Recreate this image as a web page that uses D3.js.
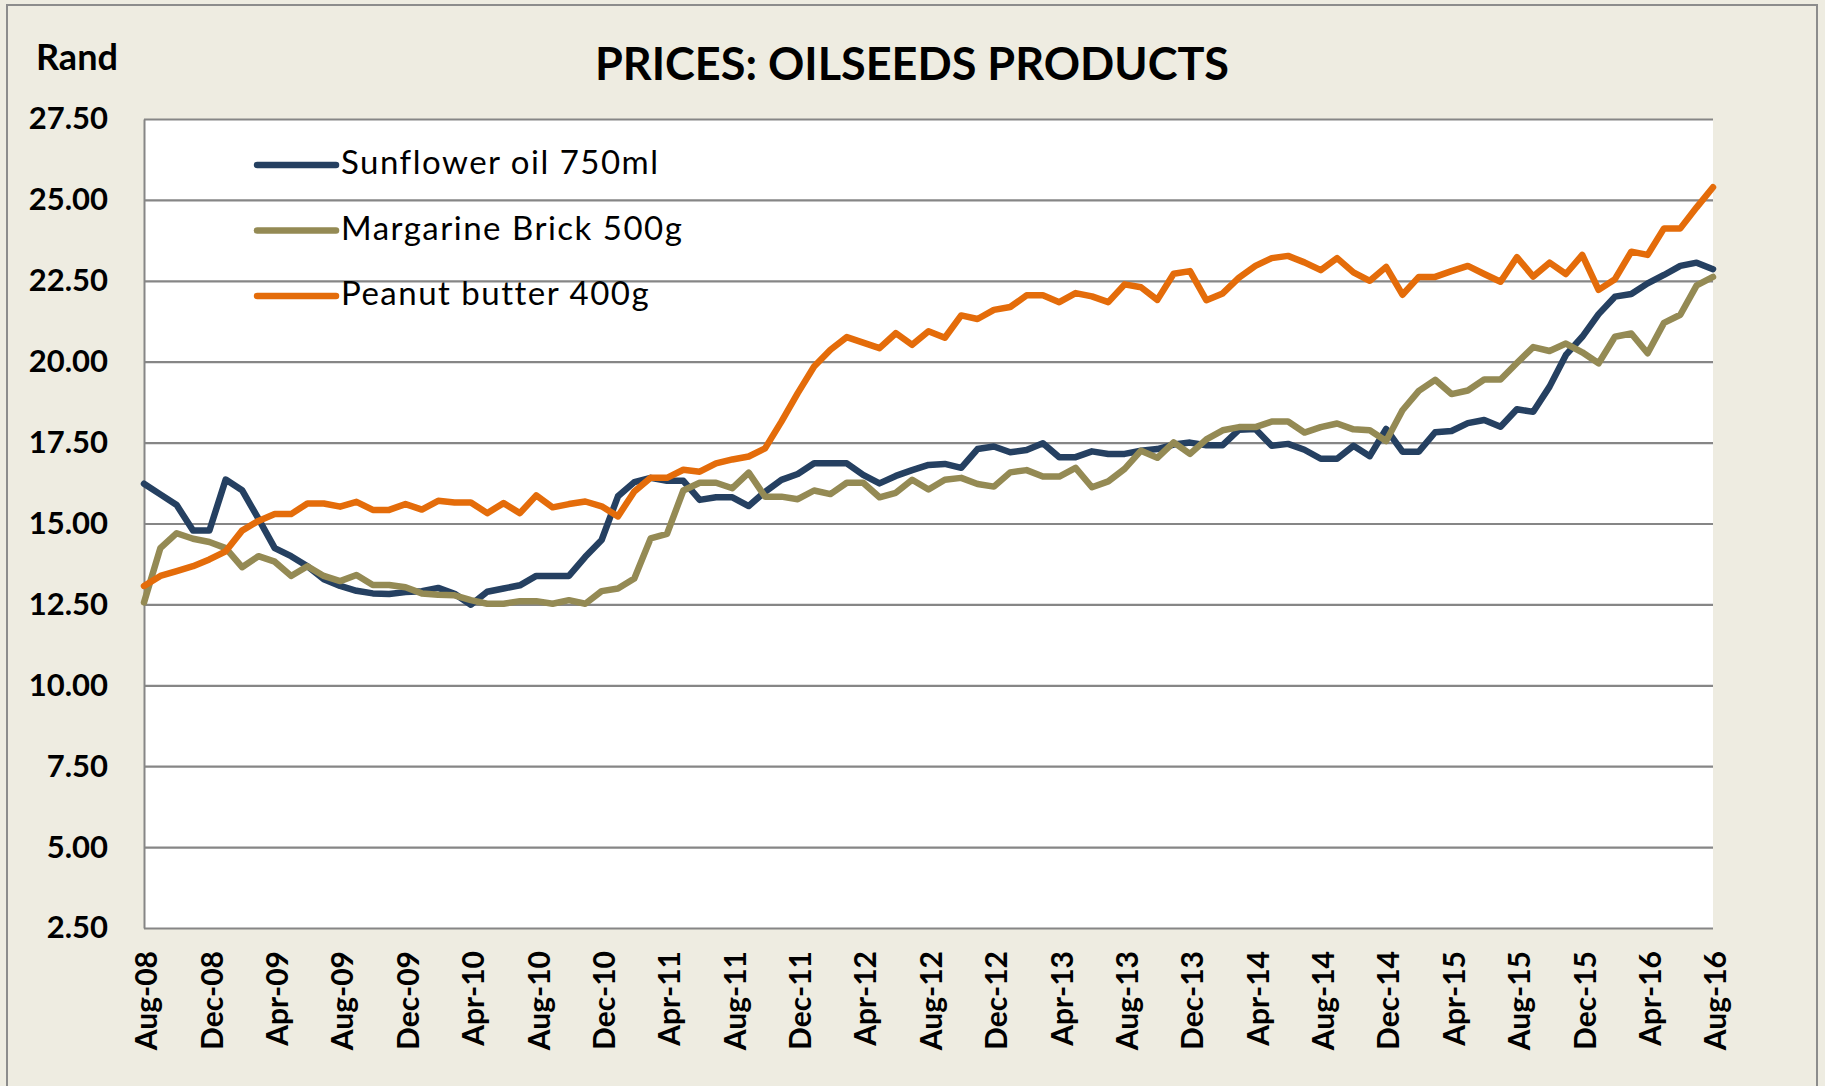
<!DOCTYPE html>
<html lang="en">
<head>
  <meta charset="UTF-8">
  <title>Prices: oilseeds products</title>
  <script src="https://d3js.org/d3.v7.min.js"></script>
  <style>
    body { margin: 0; background: #EEECE1; }
    text { font-family: Lato, "Open Sans", sans-serif; fill: #000; }
  </style>
</head>
<body>
  <div id="chart"></div>
  <script>

    // monthly retail prices (Rand), Aug-08 .. Aug-16
    var sunflower = [
      16.23, 15.90, 15.57, 14.78, 14.78, 16.36, 16.03, 15.15, 14.24, 13.99, 13.68, 13.28,
      13.07, 12.92, 12.84, 12.82, 12.88, 12.91, 13.01, 12.83, 12.49, 12.89, 12.99, 13.09,
      13.38, 13.38, 13.38, 13.97, 14.49, 15.84, 16.28, 16.41, 16.32, 16.32, 15.73, 15.81,
      15.81, 15.54, 15.98, 16.35, 16.53, 16.86, 16.86, 16.86, 16.50, 16.24, 16.47, 16.65,
      16.81, 16.84, 16.72, 17.30, 17.38, 17.20, 17.27, 17.48, 17.05, 17.05, 17.23, 17.15,
      17.15, 17.25, 17.30, 17.44, 17.50, 17.42, 17.42, 17.90, 17.92, 17.40, 17.46, 17.28,
      17.00, 17.00, 17.40, 17.08, 17.92, 17.22, 17.22, 17.82, 17.86, 18.10, 18.20, 17.99,
      18.53, 18.45, 19.23, 20.21, 20.77, 21.47, 22.01, 22.09, 22.42, 22.68, 22.96, 23.06,
      22.86
    ];
    var margarine = [
      12.56, 14.24, 14.70, 14.53, 14.43, 14.24, 13.65, 13.99, 13.82, 13.38, 13.68, 13.38,
      13.22, 13.41, 13.10, 13.10, 13.03, 12.84, 12.80, 12.78, 12.63, 12.52, 12.52, 12.60,
      12.60, 12.52, 12.63, 12.52, 12.91, 12.99, 13.30, 14.54, 14.68, 16.02, 16.26, 16.26,
      16.09, 16.57, 15.83, 15.83, 15.75, 16.02, 15.91, 16.26, 16.26, 15.81, 15.95, 16.35,
      16.05, 16.35, 16.41, 16.22, 16.14, 16.58, 16.65, 16.45, 16.45, 16.72, 16.12, 16.30,
      16.69, 17.25, 17.03, 17.51, 17.15, 17.60, 17.88, 17.98, 17.98, 18.15, 18.15, 17.81,
      17.98, 18.09, 17.91, 17.88, 17.55, 18.50, 19.10, 19.44, 19.00, 19.11, 19.45, 19.45,
      19.96, 20.45, 20.33, 20.56, 20.29, 19.95, 20.77, 20.87, 20.26, 21.20, 21.45, 22.36,
      22.62
    ];
    var peanut = [
      13.07, 13.38, 13.53, 13.68, 13.89, 14.14, 14.78, 15.08, 15.29, 15.29, 15.62, 15.62,
      15.52, 15.67, 15.42, 15.42, 15.60, 15.43, 15.70, 15.65, 15.65, 15.32, 15.63, 15.32,
      15.87, 15.50, 15.60, 15.68, 15.53, 15.22, 15.99, 16.41, 16.41, 16.66, 16.60, 16.86,
      16.98, 17.07, 17.32, 18.15, 19.03, 19.85, 20.37, 20.76, 20.59, 20.42, 20.88, 20.52,
      20.94, 20.74, 21.43, 21.32, 21.60, 21.69, 22.05, 22.05, 21.84, 22.12, 22.02, 21.84,
      22.39, 22.30, 21.91, 22.72, 22.80, 21.90, 22.11, 22.60, 22.96, 23.20, 23.27, 23.07,
      22.83, 23.20, 22.76, 22.50, 22.93, 22.07, 22.62, 22.62, 22.80, 22.96, 22.71, 22.47,
      23.23, 22.63, 23.06, 22.71, 23.30, 22.22, 22.55, 23.40, 23.30, 24.12, 24.12, 24.77,
      25.39
    ];
    var seriesNames = ["Sunflower oil 750ml", "Margarine Brick 500g", "Peanut butter 400g"];
    var seriesColors = ["#254061", "#948A54", "#E46C0A"];
    var xTickLabels = [
      "Aug-08", "Dec-08", "Apr-09", "Aug-09", "Dec-09", "Apr-10", "Aug-10", "Dec-10",
      "Apr-11", "Aug-11", "Dec-11", "Apr-12", "Aug-12", "Dec-12", "Apr-13", "Aug-13",
      "Dec-13", "Apr-14", "Aug-14", "Dec-14", "Apr-15", "Aug-15", "Dec-15", "Apr-16", "Aug-16"
    ];
    var yTicks = [2.5, 5, 7.5, 10, 12.5, 15, 17.5, 20, 22.5, 25, 27.5];

    // category labels, one per month
    var fmt = d3.timeFormat("%b-%y");
    var months = d3.timeMonth.range(new Date(2008, 7, 1), new Date(2016, 8, 1)).map(fmt);

    var W = 1825, H = 1086;
    var margin = { top: 119, right: 112, bottom: 158, left: 144 },
      width = W - margin.left - margin.right,
      height = H - margin.top - margin.bottom;

    var root = d3.select("#chart")
      .append("svg")
      .attr("width", W)
      .attr("height", H);

    // chart area border
    root.append("rect")
      .attr("x", 7).attr("y", 5)
      .attr("width", 1810).attr("height", 1100)
      .attr("fill", "#EEECE1")
      .attr("stroke", "#8C8C8C")
      .attr("stroke-width", 2);

    var svg = root.append("g")
      .attr("transform", "translate(" + margin.left + "," + margin.top + ")");

    svg.append("rect")
      .attr("width", width)
      .attr("height", height)
      .attr("fill", "#fff");

    var x = d3.scalePoint()
      .domain(months)
      .range([0, width]);

    var y = d3.scaleLinear()
      .domain([2.5, 27.5])
      .range([height, 0]);

    // Y axis + gridlines
    var yAxis = svg.append("g")
      .call(d3.axisLeft(y)
        .tickValues(yTicks)
        .tickFormat(d3.format(".2f"))
        .tickSizeInner(-width)
        .tickSizeOuter(0)
        .tickPadding(36));
    yAxis.select(".domain").attr("stroke", "#868686").attr("stroke-width", 2);
    yAxis.selectAll(".tick line").attr("stroke", "#868686").attr("stroke-width", 2.2);
    yAxis.selectAll(".tick text")
      .style("font-size", "31px")
      .style("font-weight", "bold");

    // X axis
    var xAxis = svg.append("g")
      .attr("transform", "translate(0," + height + ")")
      .call(d3.axisBottom(x)
        .tickValues(xTickLabels)
        .tickSize(0));
    xAxis.select(".domain").remove();
    xAxis.selectAll(".tick text")
      .attr("transform", "rotate(-90)")
      .attr("x", -23)
      .attr("y", 2)
      .attr("dy", "0.36em")
      .style("text-anchor", "end")
      .style("font-size", "30px")
      .style("font-weight", "bold");

    // lines
    var line = d3.line()
      .x(function (d, i) { return x(months[i]); })
      .y(function (d) { return y(d); });

    [sunflower, margarine, peanut].forEach(function (s, k) {
      svg.append("path")
        .datum(s)
        .attr("fill", "none")
        .attr("stroke", seriesColors[k])
        .attr("stroke-width", 6.5)
        .attr("stroke-linejoin", "round")
        .attr("stroke-linecap", "round")
        .attr("d", line);
    });

    // legend
    var legend = root.append("g")
      .attr("transform", "translate(257,165)");
    seriesNames.forEach(function (name, k) {
      var g = legend.append("g").attr("transform", "translate(0," + (k * 65.5) + ")");
      g.append("line")
        .attr("x1", 0).attr("x2", 79)
        .attr("stroke", seriesColors[k])
        .attr("stroke-width", 6.5)
        .attr("stroke-linecap", "round");
      g.append("text")
        .attr("x", 84)
        .attr("y", 9)
        .style("font-size", "33px")
        .style("letter-spacing", "1.5px")
        .text(name);
    });

    // titles
    root.append("text")
      .attr("x", 912)
      .attr("y", 80)
      .attr("text-anchor", "middle")
      .style("font-size", "45px")
      .style("font-weight", "bold")
      .text("PRICES: OILSEEDS PRODUCTS");

    root.append("text")
      .attr("x", 36)
      .attr("y", 70)
      .style("font-size", "36px")
      .style("font-weight", "bold")
      .text("Rand");

  </script>
</body>
</html>
